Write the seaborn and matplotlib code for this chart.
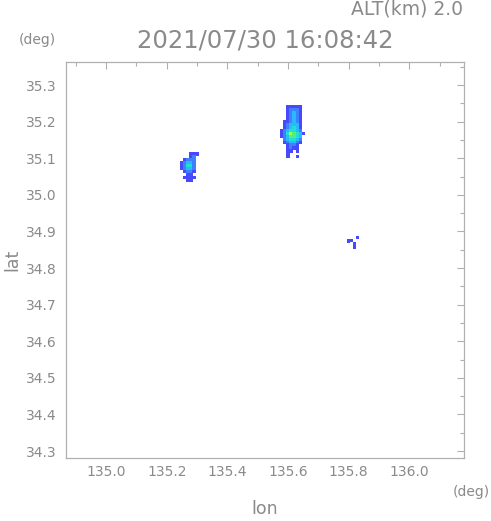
import numpy as np
import pandas as pd
import matplotlib
matplotlib.use("Agg")
import matplotlib.pyplot as plt
import seaborn as sns
from matplotlib.ticker import MultipleLocator

# echo cells on a 0.01 x 0.008 deg grid, level 0-5, '.' = no echo
# rows run north -> south starting at the given corner
main_lon0, main_lat0 = 135.58, 35.240
main_cells = [
    "..00000.",
    "..01110.",
    "..01210.",
    "..01210.",
    "..01210.",
    ".001210.",
    ".012220.",
    ".012320.",
    "0123321.",
    "01354320",
    "0124432.",
    ".123321.",
    ".012210.",
    "..0110..",
    "..0100..",
    "..00.0..",
    "..0.....",
    "..0..0..",
]

west_lon0, west_lat0 = 135.25, 35.112
west_cells = [
    "...000",
    "...01.",
    ".0111.",
    "01221.",
    "01331.",
    "01221.",
    ".0110.",
    "..00..",
    ".0000.",
    "..00..",
]

# isolated specks to the east
speck_lon = [135.80, 135.81, 135.83, 135.82, 135.82]
speck_lat = [34.874, 34.876, 34.884, 34.866, 34.856]
speck_level = [0, 0, 0, 0, 0]

dlon, dlat = 0.01, 0.008

level_colors = {
    0: "#4848ff",
    1: "#3c82ff",
    2: "#2cb8ff",
    3: "#22e0d0",
    4: "#4cf080",
    5: "#b4ff30",
}

xticks = [135.0, 135.2, 135.4, 135.6, 135.8, 136.0]
yticks = [34.3, 34.4, 34.5, 34.6, 34.7, 34.8, 34.9, 35.0, 35.1, 35.2, 35.3]


def grid_to_rows(cells, lon0, lat0):
    rows = []
    for i, line in enumerate(cells):
        for j, ch in enumerate(line):
            if ch != ".":
                rows.append((lon0 + j * dlon, lat0 - i * dlat, int(ch)))
    return rows


records = grid_to_rows(main_cells, main_lon0, main_lat0)
records += grid_to_rows(west_cells, west_lon0, west_lat0)
records += list(zip(speck_lon, speck_lat, speck_level))
df = pd.DataFrame(records, columns=["lon", "lat", "level"])

sns.set_style("white")
plt.rcParams["font.family"] = ["DejaVu Sans"]

txt = "#8a8a8a"
edge = "#b0b0b0"

fig = plt.figure(figsize=(4.91, 5.21), dpi=100)
ax = fig.add_axes([0.1344, 0.1209, 0.8106, 0.7601])

sns.scatterplot(data=df, x="lon", y="lat", hue="level", palette=level_colors,
                marker="s", s=5.6, linewidth=0, legend=False, ax=ax)

ax.set_xlim(134.868, 136.18)
ax.set_ylim(34.281, 35.363)
ax.set_xticks(xticks)
ax.set_yticks(yticks)
ax.set_xticklabels([f"{v:.1f}" for v in xticks])
ax.set_yticklabels([f"{v:.1f}" for v in yticks])
ax.xaxis.set_minor_locator(MultipleLocator(0.1))
ax.yaxis.set_minor_locator(MultipleLocator(0.05))
ax.tick_params(which="both", direction="in", top=True, right=True,
               color=edge, width=0.8, labelcolor=txt, labelsize=10)
ax.tick_params(which="major", length=5)
ax.tick_params(which="minor", length=3)
ax.tick_params(axis="x", pad=5)
ax.tick_params(axis="y", pad=7)
for sp in ax.spines.values():
    sp.set_color(edge)
    sp.set_linewidth(0.9)

ax.set_xlabel("lon", fontsize=12.5, color=txt)
ax.set_ylabel("lat", fontsize=12.5, color=txt)
ax.xaxis.set_label_coords(0.5, -0.105)
ax.yaxis.set_label_coords(-0.112, 0.5)

fig.text(0.54, 0.923, "2021/07/30 16:08:42", fontsize=17.5, color=txt,
         ha="center", va="center")
fig.text(0.943, 0.982, "ALT(km) 2.0", fontsize=13.5, color=txt,
         ha="right", va="center")
fig.text(0.077, 0.923, "(deg)", fontsize=10, color=txt, ha="center", va="center")
fig.text(0.96, 0.056, "(deg)", fontsize=10, color=txt, ha="center", va="center")

fig.savefig("out.png", dpi=100)
